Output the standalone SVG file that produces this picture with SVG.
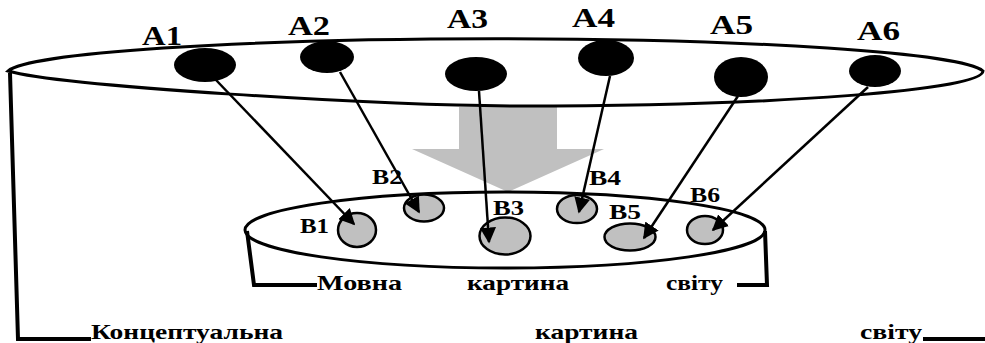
<svg xmlns="http://www.w3.org/2000/svg" width="985" height="343" viewBox="0 0 985 343">
  <style>
    .lbl { font-family: "Liberation Serif", "Times New Roman", serif; font-weight: bold; fill: #000; }
    .a { font-size: 27px; }
    .b { font-size: 20px; }
    .t { font-size: 21px; }
    .outline { fill: none; stroke: #000; stroke-width: 3; }
    .frame { fill: none; stroke: #000; stroke-width: 4; stroke-linejoin: miter; }
    .dot { fill: #000; }
    .sub { fill: #c0c0c0; stroke: #000; stroke-width: 2.5; }
    .link { stroke: #000; stroke-width: 2.5; fill: none; marker-end: url(#head); }
  </style>
  <defs>
    <marker id="head" viewBox="0 0 10 10" refX="9" refY="5" markerWidth="16" markerHeight="16" markerUnits="userSpaceOnUse" orient="auto">
      <path d="M0,0 L10,5 L0,10 z" fill="#000"/>
    </marker>
  </defs>

  <rect width="985" height="343" fill="#fff"/>

  <!-- wide grey arrow between the two levels -->
  <polygon id="transfer" points="459,107 557,107 557,149 604,149 508,192 412,149 459,149" fill="#c0c0c0"/>

  <!-- conceptual picture: upper disc with its frame -->
  <g id="conceptual">
    <path class="outline" d="M 8,71 A 489 35 0 0 1 983 71 C 983,90 777,106 520,106 C 380,106 60,86 8,71 Z"/>
    <path class="frame" d="M 10,73 L 18,339 L 91,339"/>
    <path class="frame" d="M 923,339 L 985,339"/>
    <text class="lbl t" x="91" y="339" textLength="192" lengthAdjust="spacingAndGlyphs">Концептуальна</text>
    <text class="lbl t" x="535" y="339" textLength="103" lengthAdjust="spacingAndGlyphs">картина</text>
    <text class="lbl t" x="860" y="339" textLength="62" lengthAdjust="spacingAndGlyphs">світу</text>
  </g>

  <!-- language picture: lower disc with its frame -->
  <g id="language">
    <ellipse class="outline" cx="505" cy="230" rx="260" ry="38"/>
    <path class="frame" d="M 247,231 L 254,285 L 317,285"/>
    <path class="frame" d="M 765,231 L 767,285 L 737,285"/>
    <text class="lbl t" x="317" y="290" textLength="85" lengthAdjust="spacingAndGlyphs">Мовна</text>
    <text class="lbl t" x="467" y="290" textLength="102" lengthAdjust="spacingAndGlyphs">картина</text>
    <text class="lbl t" x="666" y="290" textLength="57" lengthAdjust="spacingAndGlyphs">світу</text>
  </g>

  <!-- upper nodes -->
  <g id="A1"><ellipse class="dot" cx="205" cy="65" rx="31" ry="17"/><text class="lbl a" x="142" y="45" textLength="40" lengthAdjust="spacingAndGlyphs">A1</text></g>
  <g id="A2"><ellipse class="dot" cx="327" cy="57" rx="27" ry="16"/><text class="lbl a" x="288" y="35" textLength="42" lengthAdjust="spacingAndGlyphs">A2</text></g>
  <g id="A3"><ellipse class="dot" cx="476" cy="74" rx="31" ry="17"/><text class="lbl a" x="447" y="28" textLength="41" lengthAdjust="spacingAndGlyphs">A3</text></g>
  <g id="A4"><ellipse class="dot" cx="606" cy="58" rx="28" ry="18"/><text class="lbl a" x="572" y="27" textLength="43" lengthAdjust="spacingAndGlyphs">A4</text></g>
  <g id="A5"><ellipse class="dot" cx="741" cy="77" rx="27" ry="20"/><text class="lbl a" x="710" y="34" textLength="43" lengthAdjust="spacingAndGlyphs">A5</text></g>
  <g id="A6"><ellipse class="dot" cx="875" cy="71" rx="26" ry="16"/><text class="lbl a" x="857" y="40" textLength="43" lengthAdjust="spacingAndGlyphs">A6</text></g>

  <!-- lower nodes -->
  <g id="B1"><ellipse class="sub" cx="357" cy="230" rx="19" ry="17"/><text class="lbl b" x="300" y="233" textLength="29" lengthAdjust="spacingAndGlyphs">B1</text></g>
  <g id="B2"><ellipse class="sub" cx="424" cy="208" rx="20" ry="13.5"/><text class="lbl b" x="372" y="184" textLength="30" lengthAdjust="spacingAndGlyphs">B2</text></g>
  <g id="B3"><ellipse class="sub" cx="505" cy="236" rx="25.5" ry="18.5"/><text class="lbl b" x="493" y="215" textLength="31" lengthAdjust="spacingAndGlyphs">B3</text></g>
  <g id="B4"><ellipse class="sub" cx="577" cy="209" rx="20" ry="14"/><text class="lbl b" x="589" y="185" textLength="32" lengthAdjust="spacingAndGlyphs">B4</text></g>
  <g id="B5"><ellipse class="sub" cx="630" cy="237" rx="25.5" ry="13.5"/><text class="lbl b" x="609" y="219" textLength="32" lengthAdjust="spacingAndGlyphs">B5</text></g>
  <g id="B6"><ellipse class="sub" cx="705" cy="230" rx="18" ry="14"/><text class="lbl b" x="690" y="202" textLength="30" lengthAdjust="spacingAndGlyphs">B6</text></g>

  <!-- connectors from upper to lower nodes -->
  <g id="connectors">
    <line class="link" x1="216" y1="80" x2="354" y2="224"/>
    <line class="link" x1="340" y1="72" x2="419" y2="212"/>
    <line class="link" x1="479" y1="91" x2="489" y2="242"/>
    <line class="link" x1="610" y1="76" x2="579" y2="212"/>
    <line class="link" x1="738" y1="96" x2="644" y2="238"/>
    <line class="link" x1="868" y1="87" x2="713" y2="230"/>
  </g>
</svg>
